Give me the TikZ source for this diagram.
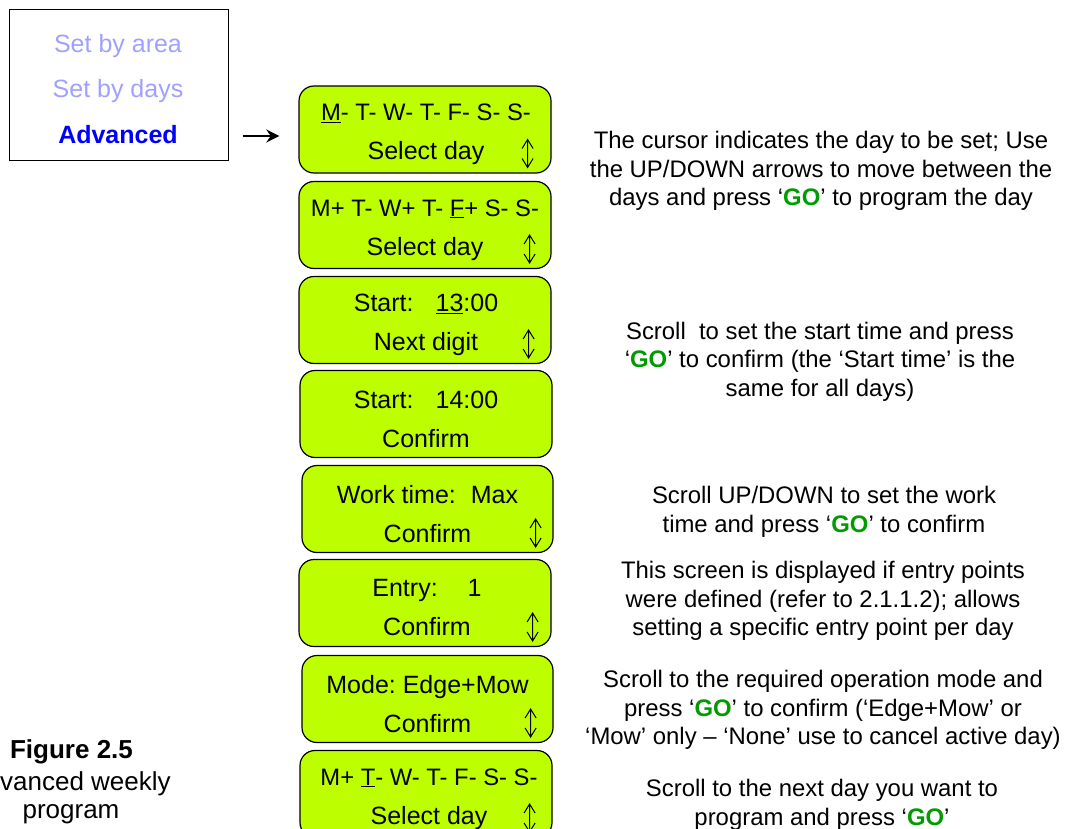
\documentclass[tikz,border=0pt]{standalone}
\usepackage{fontspec}
\setmainfont{Liberation Sans}
\usetikzlibrary{arrows.meta,calc}
\frenchspacing
\definecolor{lcdgreen}{RGB}{190,255,0}
\definecolor{menulight}{RGB}{160,160,255}
\definecolor{menublue}{RGB}{0,0,255}
\definecolor{gogreen}{RGB}{0,155,0}
\newcommand{\gokey}{‘\textbf{\textcolor{gogreen}{GO}}’}
\newcommand{\daysfont}{\fontsize{23.8}{39}\selectfont}
\tikzset{
  lcd/.style={draw,rounded corners=15pt,fill=lcdgreen,line width=1.2pt,minimum width=252pt,minimum height=87pt,inner sep=0pt},
  scr/.style={align=center,inner sep=0pt,font=\fontsize{25}{39}\selectfont},
  menubox/.style={draw,line width=1pt,minimum width=219pt,minimum height=151pt},
  menuitem/.style={font=\fontsize{25}{30}\selectfont,text=menulight},
  hint/.style={align=center,font=\fontsize{23.9}{28.5}\selectfont},
  capt/.style={font=\fontsize{26}{31}\selectfont},
  arr/.style={-{Stealth[length=13pt,width=13pt]},line width=2pt},
  updn/.pic={\draw[line width=1pt] (0,-14)--(0,14) (-5.5,-5)--(0,-14)--(5.5,-5) (-5.5,5)--(0,14)--(5.5,5);}
}
\begin{document}
\begin{tikzpicture}[x=1pt,y=-1pt]
  \clip (0,0) rectangle (1068,829);
  % program menu
  \node[menubox] (menu) at (118.5,85.5) {};
  \node[menuitem] (m1) at (118,46) {Set by area};
  \node[menuitem] (m2) at (118,91) {Set by days};
  \node[menuitem,text=menublue,font=\fontsize{25}{30}\selectfont\bfseries] (m3) at (118,135) {Advanced};

  % screens
  \node[lcd] (s1) at (425,129.5) {};
  \node[lcd] (s2) at (425,225) {};
  \node[lcd] (s3) at (425,320) {};
  \node[lcd] (s4) at (426,414) {};
  \node[lcd,minimum width=251pt] (s5) at (427.5,509) {};
  \node[lcd] (s6) at (425,603) {};
  \node[lcd,minimum width=251pt] (s7) at (427.5,699) {};
  \node[lcd] (s8) at (426,794) {};

  \node[scr] (t1) at ($(s1)+(1,5)$) {{\daysfont\underline{M}- T- W- T- F- S- S-}\\Select day};
  \node[scr] (t2) at ($(s2)+(0,5)$) {{\daysfont M+ T- W+ T- \underline{F}+ S- S-}\\Select day};
  \node[scr] (t3) at ($(s3)+(1,5)$) {Start:\hspace{22pt}\underline{13}:00\\Next digit};
  \node[scr] (t4) at ($(s4)+(0,5)$) {Start:\hspace{22pt}14:00\\Confirm};
  \node[scr] (t5) at ($(s5)+(0,5)$) {Work time:\hspace{15pt}Max\\Confirm};
  \node[scr] (t6) at ($(s6)+(2,5)$) {Entry:\hspace{30pt}1\\Confirm};
  \node[scr] (t7) at ($(s7)+(0,5)$) {Mode: Edge+Mow\\Confirm};
  \node[scr] (t8) at ($(s8)+(3,5)$) {{\daysfont M+ \underline{T}- W- T- F- S- S-}\\Select day};

  % up/down marks
  \foreach \s/\dx in {s1/-24,s2/-22,s3/-23,s5/-18,s6/-19,s7/-23,s8/-23}
    \pic at ($(\s.east)+(\dx,24)$) {updn};

  \draw[arr] ($(menu.east |- m3)+(14,1)$) -- ($(s1.west |- m3)+(-19,1)$);

  % hints
  \node[hint] (d1) at (821,171) {The cursor indicates the day to be set; Use\\the UP/DOWN arrows to move between the\\days and press \gokey{} to program the day};
  \node[hint] (d2) at (820,361.5) {Scroll\ \ to set the start time and press\\\gokey{} to confirm (the ‘Start time’ is the\\same for all days)};
  \node[hint] (d3) at (824,512) {Scroll UP/DOWN to set the work\\time and press \gokey{} to confirm};
  \node[hint] (d4) at (823,601) {This screen is displayed if entry points\\were defined (refer to 2.1.1.2); allows\\setting a specific entry point per day};
  \node[hint] (d5) at (823,710) {Scroll to the required operation mode and\\press \gokey{} to confirm (‘Edge+Mow’ or\\‘Mow’ only – ‘None’ use to cancel active day)};
  \node[hint] (d6) at (822,805) {Scroll to the next day you want to\\program and press \gokey};

  % caption
  \node[capt,font=\fontsize{26}{31}\selectfont\bfseries] (c1) at (71.5,752) {Figure 2.5};
  \node[capt,anchor=west,inner sep=0pt] (c2) at (0,784) {vanced weekly};
  \node[capt] (c3) at (71,814) {program};
\end{tikzpicture}
\end{document}
